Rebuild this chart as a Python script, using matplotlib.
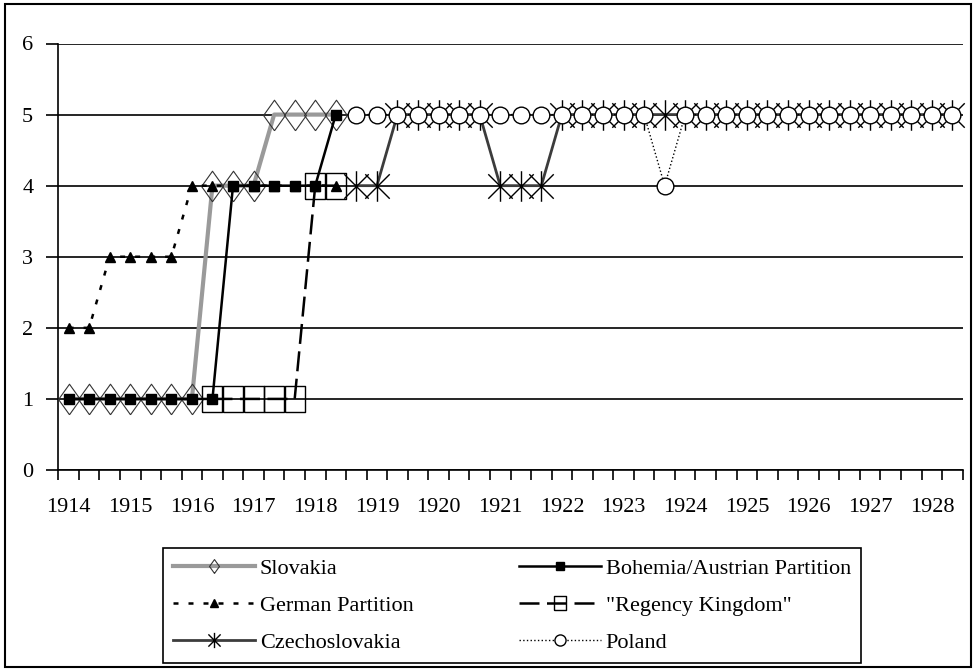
import numpy as np
import matplotlib.pyplot as plt
from matplotlib.path import Path
from matplotlib.lines import Line2D
from matplotlib.patches import Rectangle

plt.rcParams['font.family'] = ['Liberation Serif', 'DejaVu Serif']

N = None
# 44 time points, three per year, labelled every third point
years = [1914, 1915, 1916, 1917, 1918, 1919, 1920, 1921,
         1922, 1923, 1924, 1925, 1926, 1927, 1928]

slovakia = [1, 1, 1, 1, 1, 1, 1, 4, 4, 4, 5, 5, 5, 5,
            N, N, N, N, N, N, N, N, N, N, N, N, N, N, N, N, N,
            N, N, N, N, N, N, N, N, N, N, N, N, N]
bohemia = [1, 1, 1, 1, 1, 1, 1, 1, 4, 4, 4, 4, 4, 5,
           N, N, N, N, N, N, N, N, N, N, N, N, N, N, N, N, N,
           N, N, N, N, N, N, N, N, N, N, N, N, N]
german = [2, 2, 3, 3, 3, 3, 4, 4, 4, 4, 4, 4, 4, 4,
          N, N, N, N, N, N, N, N, N, N, N, N, N, N, N, N, N,
          N, N, N, N, N, N, N, N, N, N, N, N, N]
regency = [N, N, N, N, N, N, N, 1, 1, 1, 1, 1, 4, 4,
           N, N, N, N, N, N, N, N, N, N, N, N, N, N, N, N, N,
           N, N, N, N, N, N, N, N, N, N, N, N, N]
czecho = [N, N, N, N, N, N, N, N, N, N, N, N, N, N,
          4, 4, 5, 5, 5, 5, 5, 4, 4, 4, 5, 5, 5, 5, 5, 5, 5,
          5, 5, 5, 5, 5, 5, 5, 5, 5, 5, 5, 5, 5]
poland = [N, N, N, N, N, N, N, N, N, N, N, N, N, N,
          5, 5, 5, 5, 5, 5, 5, 5, 5, 5, 5, 5, 5, 5, 5, 4, 5,
          5, 5, 5, 5, 5, 5, 5, 5, 5, 5, 5, 5, 5]

def arr(v):
    return np.array([np.nan if a is None else a for a in v], dtype=float)

x = np.arange(len(slovakia))

# custom markers
tall_diamond = [(0, -1.4), (1, 0), (0, 1.4), (-1, 0), (0, -1.4)]
tall_box = [(-1, -1.2), (1, -1.2), (1, 1.2), (-1, 1.2), (-1, -1.2)]
asterisk = Path([(-0.8, -0.8), (0.8, 0.8), (-0.8, 0.8), (0.8, -0.8), (0, -1), (0, 1)],
                [Path.MOVETO, Path.LINETO, Path.MOVETO, Path.LINETO, Path.MOVETO, Path.LINETO])

fig = plt.figure(figsize=(9.76, 6.71), dpi=100)
ax = fig.add_axes([58.3 / 976, 1 - 470 / 671, (962.7 - 58.3) / 976, (470 - 43.5) / 671])

styles = {
    'Slovakia': dict(color='#9a9a9a', lw=3, ls='-', marker=tall_diamond, ms=22,
                     mfc='none', mec='#333333', mew=0.8),
    'Bohemia/Austrian Partition': dict(color='black', lw=1.8, ls='-', marker='s', ms=7,
                                       mfc='black', mec='black'),
    'German Partition': dict(color='black', lw=1.8, ls=(0, (2, 4)), marker='^', ms=7,
                             mfc='black', mec='black'),
    '"Regency Kingdom"': dict(color='black', lw=1.8, ls=(0, (8, 3)), marker=tall_box, ms=18,
                              mfc='none', mec='black', mew=1),
    'Czechoslovakia': dict(color='#3c3c3c', lw=2, ls='-', marker=asterisk, ms=22,
                           mfc='none', mec='black', mew=1),
    'Poland': dict(color='black', lw=1, ls=':', marker='o', ms=12,
                   mfc='white', mec='black', mew=1),
}
series = [('Slovakia', slovakia), ('Bohemia/Austrian Partition', bohemia),
          ('German Partition', german), ('"Regency Kingdom"', regency),
          ('Czechoslovakia', czecho), ('Poland', poland)]

for i, (name, vals) in enumerate(series):
    st = styles[name]
    ax.plot(x, arr(vals), color=st['color'], lw=st['lw'], ls=st['ls'],
            marker=st['marker'], ms=st['ms'], mfc=st['mfc'], mec=st['mec'],
            mew=st.get('mew', 1), zorder=3 + i, clip_on=False)

ax.set_xlim(-0.5, len(x) - 0.5)
ax.set_ylim(0, 6)
ax.set_yticks(range(7))
ax.yaxis.grid(True, color='black', lw=1.2)
ax.set_axisbelow(True)
ax.set_xticks(np.arange(-0.5, len(x), 1))
ax.set_xticklabels([])
ax.set_xticks(np.arange(0, len(x), 3), minor=True)
ax.set_xticklabels([str(y) for y in years], minor=True)
ax.tick_params(axis='x', which='major', length=7, width=1.2, direction='out')
ax.tick_params(axis='x', which='minor', length=0, pad=20, labelsize=16)
ax.tick_params(axis='y', length=9, width=1.2, pad=9, labelsize=16)
for s in ['top', 'right']:
    ax.spines[s].set_visible(False)
for s in ['left', 'bottom']:
    ax.spines[s].set_linewidth(1.2)

# legend with smaller markers
leg_ms = {'Slovakia': 10, 'Bohemia/Austrian Partition': 6, 'German Partition': 6,
          '"Regency Kingdom"': 10, 'Czechoslovakia': 11, 'Poland': 8}
handles = {}
for name, vals in series:
    st = styles[name]
    handles[name] = Line2D([], [], color=st['color'], lw=st['lw'], ls=st['ls'],
                           marker=st['marker'], ms=leg_ms[name], mfc=st['mfc'],
                           mec=st['mec'], mew=st.get('mew', 1))
order = ['Slovakia', 'German Partition', 'Czechoslovakia',
         'Bohemia/Austrian Partition', '"Regency Kingdom"', 'Poland']
leg = fig.legend([handles[n] for n in order], order, ncol=2, loc='upper left',
                 bbox_to_anchor=(163 / 976, 1 - 548 / 671), fontsize=16,
                 frameon=True, fancybox=False, edgecolor='black', framealpha=1,
                 handlelength=3.7, handletextpad=0.2, columnspacing=4.75,
                 labelspacing=0.75, borderpad=0.45, borderaxespad=0)
leg.get_frame().set_linewidth(1.2)

fig.patches.append(Rectangle((5 / 976, 4 / 671), 966 / 976, 663 / 671,
                             transform=fig.transFigure, fill=False,
                             edgecolor='black', lw=1.5))

fig.savefig('out.png', dpi=100)
